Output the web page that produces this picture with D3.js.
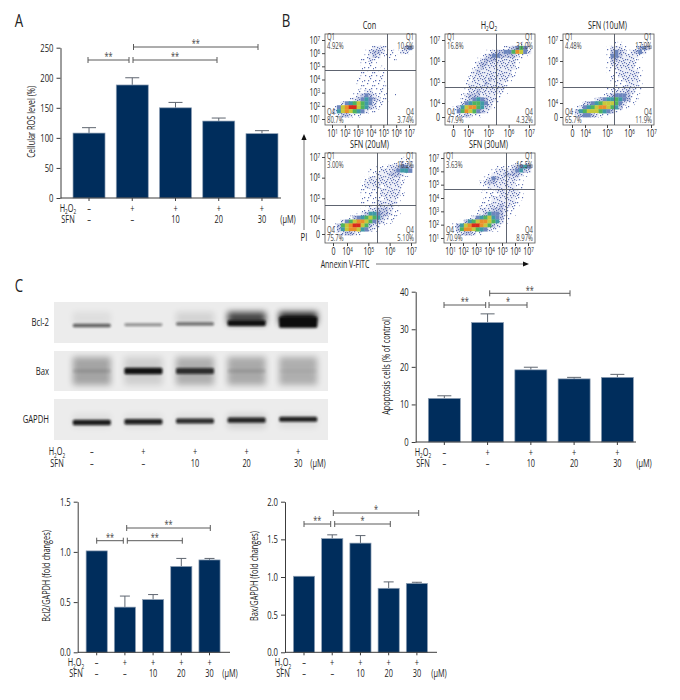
<!DOCTYPE html>
<html>
<head>
<meta charset="utf-8">
<script src="https://cdn.jsdelivr.net/npm/d3@7"></script>
<style>
  body { margin: 0; background: #fff; }
  text { font-family: "Open Sans", sans-serif; fill: #222; }
</style>
</head>
<body>
<svg id="fig" width="680" height="700"></svg>
<script>
// bar data
const groups = ["ctl", "h2o2", "sfn10", "sfn20", "sfn30"];
const h2o2Row = ["–", "+", "+", "+", "+"];
const sfnRow = ["–", "–", "10", "20", "30"];

const rosValues = [108, 188, 150, 128, 107];
const rosTops = [117, 200, 159, 133, 112];
const apoValues = [11.6, 31.8, 19.2, 16.8, 17.2];
const apoTops = [12.3, 34.1, 19.9, 17.2, 18];
const bclValues = [1.01, 0.45, 0.525, 0.855, 0.92];
const bclTops = [1.01, 0.56, 0.575, 0.935, 0.935];
const baxValues = [1.01, 1.51, 1.45, 0.85, 0.915];
const baxTops = [1.01, 1.56, 1.55, 0.935, 0.93];

// western blot lanes (0-1, by eye)
const bcl2Band = [0.62, 0.42, 0.55, 0.97, 1];
const bcl2Mass = [0.12, 0.05, 0.1, 0.4, 1];
const bcl2Smear = [0.06, 0, 0.1, 0.72, 0.85];
const baxBand = [0.1, 0.97, 0.8, 0.1, 0.03];
const baxMass = [0.2, 0.45, 0.4, 0.2, 0.1];
const baxSmear = [0.3, 0.12, 0.26, 0.28, 0.26];
const gapdhBand = [0.92, 0.9, 0.85, 0.88, 0.9];
const gapdhMass = [0.35, 0.35, 0.3, 0.3, 0.3];
const gapdhSmear = [0.05, 0.05, 0.05, 0.12, 0.05];

// flow cytometry: density on a 23x23 grid, 0 empty, 9 peak
const conDensity = [
  "00000000000000000000000",
  "00000000000000000000000",
  "00000000000000000000000",
  "00000000000122210001340",
  "00000000001233211112210",
  "00000000001232111100000",
  "00000000011211000100000",
  "00000000011110000000000",
  "00000000011110100000000",
  "00000000011111100000000",
  "00000000011111100000000",
  "00000000111111100000000",
  "00000000111111100000000",
  "00000000011111110000000",
  "00000000112211110000000",
  "00000001234321110100000",
  "00000012345432110000000",
  "00002456765421110000000",
  "00147899765321000000000",
  "00257876542110000000000",
  "00013321100000000000000",
  "00000000000000000000000",
  "00000000000000000000000"
];
const h2o2Density = [
  "00000000000000000000000",
  "00000000000000000000000",
  "00000000000000000001110",
  "00000000000000112346410",
  "00000000001123344687420",
  "00000000012344333321100",
  "00000000123332222211000",
  "00000001233222222210000",
  "00000001232222222210000",
  "00000012322222222100000",
  "00000012222222222100000",
  "00000112222322221000000",
  "00000122223222210000000",
  "00000122222222210000000",
  "00000122322222110000000",
  "00001233322221100000000",
  "00001234543221000000000",
  "00002456654211000000000",
  "00135788653210000000000",
  "00146876432100000000000",
  "00012321100000000000000",
  "00000000000000000000000",
  "00000000000000000000000"
];
const sfn10Density = [
  "00000000000000000000000",
  "00000000000000000000000",
  "00000000000001100000110",
  "00000000000122210013430",
  "00000000000134321234200",
  "00000000000144322221000",
  "00000000000133222210000",
  "00000000000122222210000",
  "00000000000112222211000",
  "00000000000111222221000",
  "00000000000011222221000",
  "00000000000011122221000",
  "00000000000011112221000",
  "00000000000111122211000",
  "00000000000112223211000",
  "00000000001234443110000",
  "00000000234556543110000",
  "00000234567776421100000",
  "00012456788765311000000",
  "00135677765431100000000",
  "00023443211100000000000",
  "00000000000000000000000",
  "00000000000000000000000"
];
const sfn20Density = [
  "00000000000000000000000",
  "00000000000000000001100",
  "00000000000000000112110",
  "00000000000001112234430",
  "00000000000111222345540",
  "00000000000112223332100",
  "00000000001222222221000",
  "00000000012222222221000",
  "00000000012222122221000",
  "00000000011111222221000",
  "00000000011111222221000",
  "00000000011111122210000",
  "00000000011112222210000",
  "00000000001112222110000",
  "00000000011223332110000",
  "00000000123554332110000",
  "00000013456765321100000",
  "00002467887643211000000",
  "00136789976321100000000",
  "00035788754211000000000",
  "00012332100000000000000",
  "00000000000000000000000",
  "00000000000000000000000"
];
const sfn30Density = [
  "00000000000000000000000",
  "00000000000000000000000",
  "00000000000000000011110",
  "00000000000001111234540",
  "00000000000012222345320",
  "00000000000122233332100",
  "00000000001243222221000",
  "00000000012332222211000",
  "00000000011222222211000",
  "00000000011112222221000",
  "00000000001111222221000",
  "00000000001122222211000",
  "00000000011122222210000",
  "00000000011222322110000",
  "00000000122233321100000",
  "00000000123544321100000",
  "00000012456754311000000",
  "00001356788765210000000",
  "00135789987632100000000",
  "00136887654211000000000",
  "00012332110000000000000",
  "00000000000000000000000",
  "00000000000000000000000"
];

const fullTicks = [1, 2, 3, 4, 5, 6, 7];
const zeroTicks = [0, 4, 5, 6, 7];

const svg = d3.select("#fig");
const axisColor = "#3c3c3c";
const barColor = "#002d5c";

// blur used by blots and the flow plots
const defs = svg.append("defs");
[["soft", 0.6], ["band", 0.8], ["halo", 3]].forEach(([id, s]) => {
  defs.append("filter").attr("id", id)
    .attr("x", "-30%").attr("y", "-60%").attr("width", "160%").attr("height", "220%")
    .append("feGaussianBlur").attr("stdDeviation", s);
});

// fixed speckle so the sparse parts of the flow plots read as single events
const speckDots = [[1,2],[7,0],[4,5],[9,7],[2,10],[6,11],[0,7],[10,3],[5,2],[8,10],[3,8],[6,6],[1,12],[9,1],[4,0],[2,4],[7,8],[10,11],[0,0],[5,9],[8,4],[3,1],[6,3],[1,5],[9,12],[4,11],[0,9],[7,5],[2,7],[10,6]];
[[1, 10], [2, 20], [3, 30]].forEach(([level, n]) => {
  const pat = defs.append("pattern").attr("id", "speck" + level)
    .attr("patternUnits", "userSpaceOnUse").attr("width", 11).attr("height", 13);
  if (level === 3) pat.append("rect").attr("width", 11).attr("height", 13).attr("fill", "#c9cfe6");
  if (level === 2) pat.append("rect").attr("width", 11).attr("height", 13).attr("fill", "#eceef7");
  speckDots.slice(0, n).forEach(d => {
    pat.append("rect").attr("x", d[0]).attr("y", d[1]).attr("width", 1.2).attr("height", 1.2).attr("fill", "#5a6cb0");
  });
});

// H2O2 with the two subscripts
function h2o2Text(sel, size) {
  sel.append("tspan").text("H");
  sel.append("tspan").attr("dy", 2.5).style("font-size", (size * 0.65) + "px").text("2");
  sel.append("tspan").attr("dy", -2.5).text("O");
  sel.append("tspan").attr("dy", 2.5).style("font-size", (size * 0.65) + "px").text("2");
}

function label(x, y, txt, size, anchor) {
  return svg.append("text").attr("x", x).attr("y", y)
    .attr("text-anchor", anchor || "middle")
    .style("font-size", size + "px")
    .text(txt);
}

// the two rows of treatment labels under a chart or blot
function treatmentRows(xPos, rowX, y1, y2, unitX) {
  const t1 = svg.append("text").attr("x", rowX).attr("y", y1).attr("text-anchor", "middle").style("font-size", "10.5px");
  h2o2Text(t1, 10.5);
  label(rowX, y2, "SFN", 10.5);
  groups.forEach((g, i) => {
    label(xPos(g), y1, h2o2Row[i], 10.5);
    label(xPos(g), y2, sfnRow[i], 10.5);
  });
  label(unitX, y2, "(μM)", 10.5);
}

function barChart(cfg) {
  const g = svg.append("g");
  const y = d3.scaleLinear().domain([0, cfg.yMax]).range([cfg.y0, cfg.y1]);
  const x = d3.scaleBand().domain(groups)
    .range(cfg.xRange).paddingInner(cfg.pad).paddingOuter(cfg.pad / 2);
  const cx = d => x(d) + x.bandwidth() / 2;

  // error bars go under the bars
  const err = g.append("g").attr("stroke", "#5f6670").attr("stroke-width", 1);
  groups.forEach((d, i) => {
    if (cfg.tops[i] <= cfg.values[i]) return;
    err.append("line").attr("x1", cx(d)).attr("x2", cx(d))
      .attr("y1", y(cfg.values[i])).attr("y2", y(cfg.tops[i]));
    err.append("line").attr("x1", cx(d) - cfg.cap).attr("x2", cx(d) + cfg.cap)
      .attr("y1", y(cfg.tops[i])).attr("y2", y(cfg.tops[i]));
  });

  g.selectAll("rect.bar").data(groups).enter().append("rect")
    .attr("class", "bar")
    .attr("x", d => x(d))
    .attr("y", (d, i) => y(cfg.values[i]))
    .attr("width", x.bandwidth())
    .attr("height", (d, i) => cfg.y0 - y(cfg.values[i]))
    .attr("fill", barColor)
    .attr("stroke", "#8fa0b5")
    .attr("stroke-width", 0.7);

  const yAxis = g.append("g")
    .attr("transform", "translate(" + cfg.axisX + ",0)")
    .call(d3.axisLeft(y).tickValues(cfg.ticks).tickSize(4).tickSizeOuter(0).tickFormat(cfg.fmt));
  yAxis.selectAll("text").style("font-size", "11px").attr("fill", "#222");
  yAxis.selectAll("line,path").attr("stroke", axisColor);

  const xAxis = g.append("g")
    .attr("transform", "translate(0," + cfg.y0 + ")")
    .call(d3.axisBottom(x).tickSize(3).tickSizeOuter(0).tickFormat(""));
  xAxis.select(".domain").attr("d", "M" + cfg.axisX + ",0H" + cfg.axisEnd).attr("stroke", axisColor);
  xAxis.selectAll("line").attr("stroke", axisColor);

  label(0, 0, cfg.title, 10.5).attr("transform", "translate(" + cfg.titleX + "," + ((cfg.y0 + cfg.y1) / 2 - 1) + ") rotate(-90)");

  cfg.brackets.forEach(b => {
    g.append("path")
      .attr("d", "M" + b[0] + "," + (b[2] - 3) + "v6M" + b[0] + "," + b[2] + "H" + b[1] + "M" + b[1] + "," + (b[2] - 3) + "v6")
      .attr("fill", "none").attr("stroke", "#5a5a5a").attr("stroke-width", 1);
    label((b[0] + b[1]) / 2, b[2] + 0.5, b[3], 10.5).style("fill", "#444");
  });

  treatmentRows(cx, cfg.rowX, cfg.y0 + cfg.rowDy, cfg.y0 + cfg.rowDy + 11, cfg.unitX);
}

barChart({
  values: rosValues, tops: rosTops, yMax: 250, y0: 198, y1: 47.7, ticks: [0, 50, 100, 150, 200, 250],
  fmt: d3.format("d"), xRange: [67.4, 283.6], pad: 0.26, axisX: 60.5, axisEnd: 281, cap: 7,
  title: "Cellular ROS level (%)", titleX: 35, rowX: 68, rowDy: 14, unitX: 288,
  brackets: [[88, 129, 60, "**"], [133, 217, 60, "**"], [133.5, 258, 47, "**"]]
});
barChart({
  values: apoValues, tops: apoTops, yMax: 40, y0: 442, y1: 291.7, ticks: [0, 10, 20, 30, 40],
  fmt: d3.format("d"), xRange: [422.7, 639], pad: 0.26, axisX: 415.7, axisEnd: 636, cap: 7,
  title: "Apoptosis cells (% of control)", titleX: 390, rowX: 423, rowDy: 14, unitX: 644,
  brackets: [[444, 485.7, 305, "**"], [489, 527, 305, "*"], [489.7, 570, 293.3, "**"]]
});
barChart({
  values: bclValues, tops: bclTops, yMax: 1.5, y0: 652.3, y1: 501.7, ticks: [0, 0.5, 1, 1.5],
  fmt: d3.format(".1f"), xRange: [82.6, 223.6], pad: 0.25, axisX: 77.7, axisEnd: 230, cap: 5,
  title: "Bcl2/GAPDH (fold changes)", titleX: 50, rowX: 76, rowDy: 14, unitX: 230,
  brackets: [[96.7, 123.3, 540.7, "**"], [127.3, 182.3, 540.7, "**"], [126.7, 210.3, 528, "**"]]
});
barChart({
  values: baxValues, tops: baxTops, yMax: 2, y0: 652.3, y1: 501.7, ticks: [0, 0.5, 1, 1.5, 2],
  fmt: d3.format(".1f"), xRange: [289.9, 431], pad: 0.25, axisX: 285, axisEnd: 437, cap: 5,
  title: "Bax/GAPDH (fold changes)", titleX: 258, rowX: 283, rowDy: 14, unitX: 439,
  brackets: [[304, 330.7, 524, "**"], [334.7, 390.3, 524, "*"], [333.3, 418.7, 513, "*"]]
});

// panel letters
label(19, 27, "A", 19);
label(286, 27, "B", 19);
label(19, 292, "C", 19);

// blots
const lane = d3.scaleBand().domain(groups).range([66, 324]).paddingInner(0.1).paddingOuter(0.05);
const laneX = d => lane(d) + lane.bandwidth() / 2;

function blot(name, y, h, coreY, drift, haloY, haloH, band, mass, smear) {
  const thick = d3.scaleLinear().domain([0, 1]).range([2.5, 11]);
  const clipId = "clip-" + name;
  defs.append("clipPath").attr("id", clipId).append("rect").attr("x", 54).attr("y", y).attr("width", 274).attr("height", h);
  svg.append("rect").attr("x", 54).attr("y", y).attr("width", 274).attr("height", h).attr("fill", "#ececec");
  const g = svg.append("g").attr("clip-path", "url(#" + clipId + ")");
  g.selectAll("rect.halo").data(groups).enter().append("rect")
    .attr("class", "halo")
    .attr("x", d => laneX(d) - 19).attr("width", 38)
    .attr("y", haloY).attr("height", haloH)
    .attr("fill", "#000").attr("opacity", (d, i) => smear[i])
    .attr("filter", "url(#halo)");
  g.selectAll("rect.core").data(groups).enter().append("rect")
    .attr("class", "core")
    .attr("x", d => laneX(d) - 19).attr("width", 38)
    .attr("y", (d, i) => coreY + i * drift - thick(mass[i]) / 2)
    .attr("height", (d, i) => thick(mass[i]))
    .attr("rx", 1.5)
    .attr("fill", "#0c0c0c").attr("opacity", (d, i) => band[i])
    .attr("filter", "url(#band)");
  label(49, y + 24, name, 11, "end");
}
blot("Bcl-2", 302, 41, 325.5, -0.8, 312, 12, bcl2Band, bcl2Mass, bcl2Smear);
blot("Bax", 351, 40, 371, 0, 357, 28, baxBand, baxMass, baxSmear);
blot("GAPDH", 399, 41, 422.5, -0.8, 414, 14, gapdhBand, gapdhMass, gapdhSmear);
treatmentRows(laneX, 57, 455.5, 467, 318);

// flow plots
const densityColor = d3.scaleLinear()
  .domain([0, 1, 2, 3, 4, 5, 6, 7, 8, 9])
  .range(["#ffffff", "#e6e8f3", "#c6cbe3", "#98a3cd", "#6d86bd", "#3f9aa6", "#4fb35e", "#c5c93c", "#ea8f2b", "#d92a1c"]);

function powerLabels(axisG) {
  axisG.selectAll(".tick text").each(function (d) {
    const t = d3.select(this).text("");
    if (d === 0) { t.text("0"); return; }
    t.append("tspan").text("10");
    t.append("tspan").attr("dy", -3).style("font-size", "6.5px").text(d);
  });
}

function flowPanel(p) {
  const g = svg.append("g");
  const w = p.x1 - p.x0, h = p.y1 - p.y0;
  const clipId = "clip-" + p.id;
  defs.append("clipPath").attr("id", clipId).append("rect").attr("x", p.x0).attr("y", p.y0).attr("width", w).attr("height", h);

  const col = d3.scaleBand().domain(d3.range(23)).range([p.x0, p.x1]);
  const row = d3.scaleBand().domain(d3.range(23)).range([p.y0, p.y1]);
  const cells = g.append("g").attr("clip-path", "url(#" + clipId + ")").append("g").attr("filter", "url(#soft)");
  p.density.forEach((line, r) => {
    line.split("").forEach((c, k) => {
      if (c === "0") return;
      cells.append("rect")
        .attr("x", col(k)).attr("y", row(r))
        .attr("width", col.bandwidth() + 0.3).attr("height", row.bandwidth() + 0.3)
        .attr("fill", +c <= 3 ? "url(#speck" + c + ")" : densityColor(+c));
    });
  });

  g.append("path").attr("d", "M" + p.gx + "," + p.y0 + "V" + p.y1 + "M" + p.x0 + "," + p.gy + "H" + p.x1)
    .attr("stroke", "#5e6470").attr("stroke-width", 1).attr("fill", "none");
  g.append("rect").attr("x", p.x0).attr("y", p.y0).attr("width", w).attr("height", h)
    .attr("fill", "none").attr("stroke", "#555").attr("stroke-width", 0.8);

  const xs = d3.scaleLinear().domain(p.xDom).range(p.xRange);
  const ys = d3.scaleLinear().domain(p.yDom).range(p.yRange);
  const xa = g.append("g").attr("transform", "translate(0," + p.y1 + ")")
    .call(d3.axisBottom(xs).tickValues(p.xTicks).tickSize(3).tickPadding(2));
  const ya = g.append("g").attr("transform", "translate(" + p.x0 + ",0)")
    .call(d3.axisLeft(ys).tickValues(p.yTicks).tickSize(3).tickPadding(2));
  [xa, ya].forEach(a => {
    a.select(".domain").remove();
    a.selectAll("line").attr("stroke", "#444");
    a.selectAll("text").style("font-size", "10px").attr("fill", "#222");
    powerLabels(a);
  });

  // quadrant labels
  const small = (x, y, s, anchor) => label(x, y, s, 8.5, anchor).style("fill", "#444");
  small(p.x0 + 2, p.y0 + 6, "Q1", "start");
  small(p.x0 + 2, p.y0 + 15, p.pct[0], "start");
  small(p.x1 - 2, p.y0 + 6, "Q1", "end");
  small(p.x1 - 2, p.y0 + 15, p.pct[1], "end");
  small(p.x0 + 2, p.y1 - 10, "Q4", "start");
  small(p.x0 + 2, p.y1 - 2, p.pct[2], "start");
  small(p.x1 - 2, p.y1 - 10, "Q4", "end");
  small(p.x1 - 2, p.y1 - 2, p.pct[3], "end");

  const t = label((p.x0 + p.x1) / 2 - 1, p.y0 - 5, "", 10.5);
  if (p.title === "H2O2") h2o2Text(t, 10.5); else t.text(p.title);
}

flowPanel({
  id: "con", title: "Con", density: conDensity, pct: ["4.92%", "10.6%", "80.7%", "3.74%"],
  x0: 325, x1: 416, y0: 34, y1: 125, gx: 387.5, gy: 70.5,
  xDom: [1, 7], xRange: [332, 409], xTicks: fullTicks, yDom: [1, 7], yRange: [119, 40], yTicks: fullTicks
});
flowPanel({
  id: "h2o2", title: "H2O2", density: h2o2Density, pct: ["16.8%", "31.0%", "47.9%", "4.32%"],
  x0: 445, x1: 535, y0: 34, y1: 125, gx: 496.5, gy: 87.5,
  xDom: [0, 4, 7], xRange: [453, 468, 529], xTicks: zeroTicks, yDom: [0, 4, 7], yRange: [117, 103, 40], yTicks: zeroTicks
});
flowPanel({
  id: "sfn10", title: "SFN (10uM)", density: sfn10Density, pct: ["4.48%", "17.9%", "65.7%", "11.9%"],
  x0: 563, x1: 654, y0: 34, y1: 125, gx: 614.5, gy: 87.5,
  xDom: [0, 4, 7], xRange: [572, 585, 651], xTicks: zeroTicks, yDom: [0, 4, 7], yRange: [117, 103, 40], yTicks: zeroTicks
});
flowPanel({
  id: "sfn20", title: "SFN (20uM)", density: sfn20Density, pct: ["3.00%", "16.2%", "75.7%", "5.10%"],
  x0: 325, x1: 416, y0: 153, y1: 243, gx: 377.5, gy: 205.5,
  xDom: [0, 4, 7], xRange: [333, 347, 411], xTicks: zeroTicks, yDom: [0, 4, 7], yRange: [234, 219, 157], yTicks: zeroTicks
});
flowPanel({
  id: "sfn30", title: "SFN (30uM)", density: sfn30Density, pct: ["3.63%", "16.5%", "70.9%", "8.97%"],
  x0: 444, x1: 535, y0: 153, y1: 243, gx: 506.5, gy: 189.5,
  xDom: [1, 7], xRange: [450, 528], xTicks: fullTicks, yDom: [1, 7], yRange: [238, 158], yTicks: fullTicks
});

// PI and Annexin arrows
svg.append("line").attr("x1", 304).attr("x2", 304).attr("y1", 230).attr("y2", 139).attr("stroke", "#777").attr("stroke-width", 1);
svg.append("path").attr("d", "M304,134l-2.6,6h5.2z").attr("fill", "#111");
label(304, 241, "PI", 11);
label(345, 268, "Annexin V-FITC", 10);
svg.append("line").attr("x1", 376).attr("x2", 524).attr("y1", 264).attr("y2", 264).attr("stroke", "#777").attr("stroke-width", 1);
svg.append("path").attr("d", "M529,264l-6,-2.6v5.2z").attr("fill", "#111");

// the figure uses a condensed face, none is installed, so squeeze every text around its anchor
svg.selectAll("text").each(function () {
  const t = d3.select(this);
  const x = +(t.attr("x") || 0);
  const old = t.attr("transform") || "";
  t.attr("transform", old + " translate(" + x + ",0) scale(0.7,1) translate(" + (-x) + ",0)");
});
</script>
</body>
</html>
